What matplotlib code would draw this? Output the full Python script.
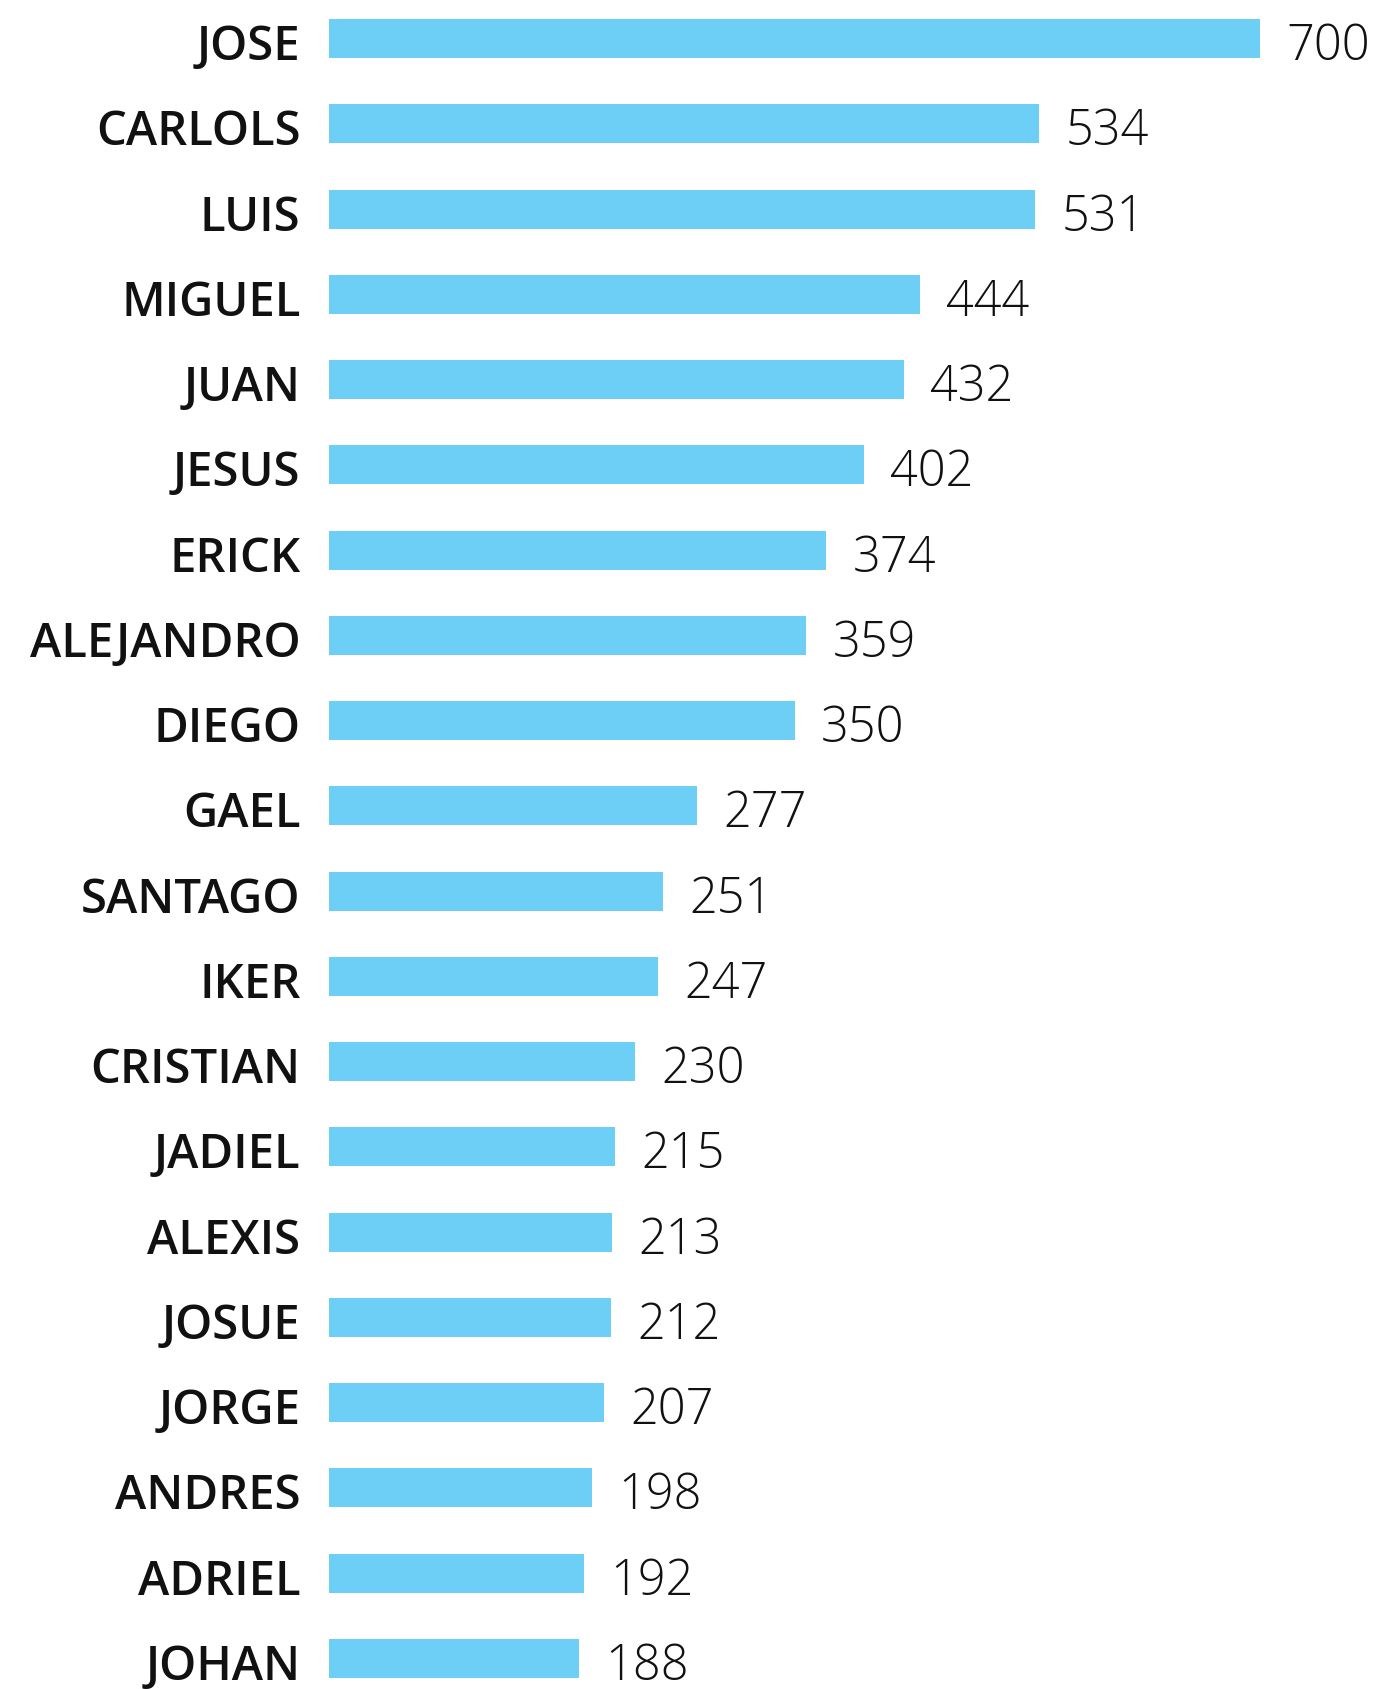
import matplotlib.pyplot as plt

names = ["JOSE", "CARLOLS", "LUIS", "MIGUEL", "JUAN", "JESUS", "ERICK",
         "ALEJANDRO", "DIEGO", "GAEL", "SANTAGO", "IKER", "CRISTIAN",
         "JADIEL", "ALEXIS", "JOSUE", "JORGE", "ANDRES", "ADRIEL", "JOHAN"]
counts = [700, 534, 531, 444, 432, 402, 374, 359, 350, 277, 251, 247, 230,
          215, 213, 212, 207, 198, 192, 188]

W, H = 1383, 1689
fig = plt.figure(figsize=(W / 100, H / 100), dpi=100)
# axes: x from bar origin (329px) to end of longest bar (1260px), full height
ax = fig.add_axes([329 / W, 0, (1260 - 329) / W, 1])

pos = list(range(len(names)))
ax.barh(pos, counts, height=0.457, color="#6DCFF6")

row = 85.26
ax.set_ylim((H - 38.5) / row, -38.5 / row)
ax.set_xlim(0, 700)
ax.axis("off")

# names right-aligned left of the bars, numbers after bar end (baseline a bit below bar centre)
for i, (n, v) in enumerate(zip(names, counts)):
    ax.annotate(n, (0, i), xytext=(-20.5, -15.5), textcoords="offset points",
                va="baseline", ha="right", fontsize=34, fontweight="semibold",
                family="Open Sans", color="#111111", annotation_clip=False)
    ax.annotate(str(v), (v, i), xytext=(19, -15.5), textcoords="offset points",
                va="baseline", ha="left", fontsize=35, fontweight="light",
                family="Open Sans", color="#111111", annotation_clip=False)

fig.savefig("out.png", dpi=100)
